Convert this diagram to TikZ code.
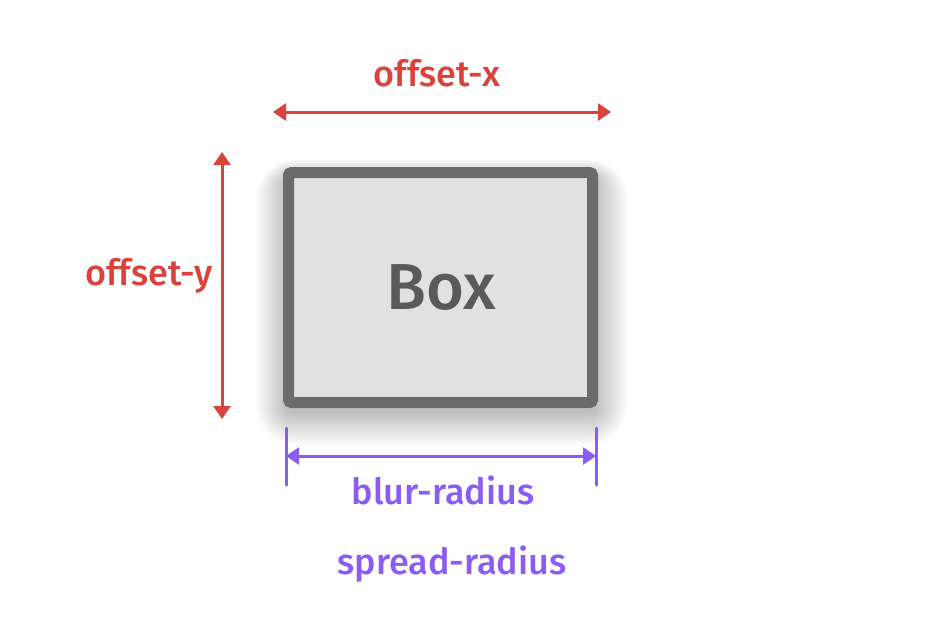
\documentclass[tikz,border=0pt]{standalone}
\usepackage{fontspec}
\setmainfont{Fira Sans Medium}
\usetikzlibrary{arrows.meta}
\definecolor{redc}{HTML}{D9433B}
\definecolor{purp}{HTML}{8A5CF5}
\definecolor{boxfill}{HTML}{E1E1E2}
\definecolor{boxline}{HTML}{6B6B6D}
\definecolor{boxtext}{HTML}{5A5A5C}
\tikzset{
  redarrow/.style={draw=redc, line width=3pt, {Triangle[length=13pt,width=17pt]}-{Triangle[length=13pt,width=17pt]}},
  purparrow/.style={draw=purp, line width=3pt, {Triangle[length=13pt,width=17pt]}-{Triangle[length=13pt,width=17pt]}},
  tick/.style={draw=purp, line width=3pt, line cap=round},
  redlabel/.style={text=redc, font=\fontsize{36}{40}\selectfont, inner sep=0pt},
  purplabel/.style={text=purp, font=\fontsize{36}{40}\selectfont, inner sep=0pt},
}
\begin{document}
\begin{tikzpicture}[x=1pt,y=-1pt]
\useasboundingbox (0,0) rectangle (945,630);
\fill[white] (0,0) rectangle (945,630);
% shadow
\foreach \i in {1,...,32}{
  \fill[black, opacity=0.0075, rounded corners={4pt+1.2pt*\i}]
    ({287-1.0*\i},{178-0.6*\i}) rectangle ({595+1.05*\i},{412+1.05*\i});
}
% box
\node (box) [draw=boxline, line width=11pt, fill=boxfill, rounded corners=3pt,
  minimum width=304pt, minimum height=230pt, inner sep=0pt, anchor=center] at (440.5,287.5) {};
\node (boxtxt) [text=boxtext, font=\fontsize{65}{70}\selectfont, inner sep=0pt] at (441,288) {Box};
% offset-x
\coordinate (xl) at (273,112);
\coordinate (xr) at (611,112);
\draw[redarrow] (xl) -- (xr);
\node (ox) [redlabel] at (437,73) {offset-x};
% offset-y
\coordinate (yt) at (222,152);
\coordinate (yb) at (222,419);
\draw[redarrow] (yt) -- (yb);
\node (oy) [redlabel] at (149,276) {offset-y};
% blur radius
\coordinate (t1a) at (286,428);
\coordinate (t1b) at (286,485);
\coordinate (t2a) at (596,428);
\coordinate (t2b) at (596,485);
\draw[tick] (t1a) -- (t1b);
\draw[tick] (t2a) -- (t2b);
\coordinate (bl) at (286,456);
\coordinate (br) at (596,456);
\draw[purparrow] (bl) -- (br);
\node (blur) [purplabel] at (443,490) {blur-radius};
\node (spread) [purplabel] at (452,564) {spread-radius};
\end{tikzpicture}
\end{document}
